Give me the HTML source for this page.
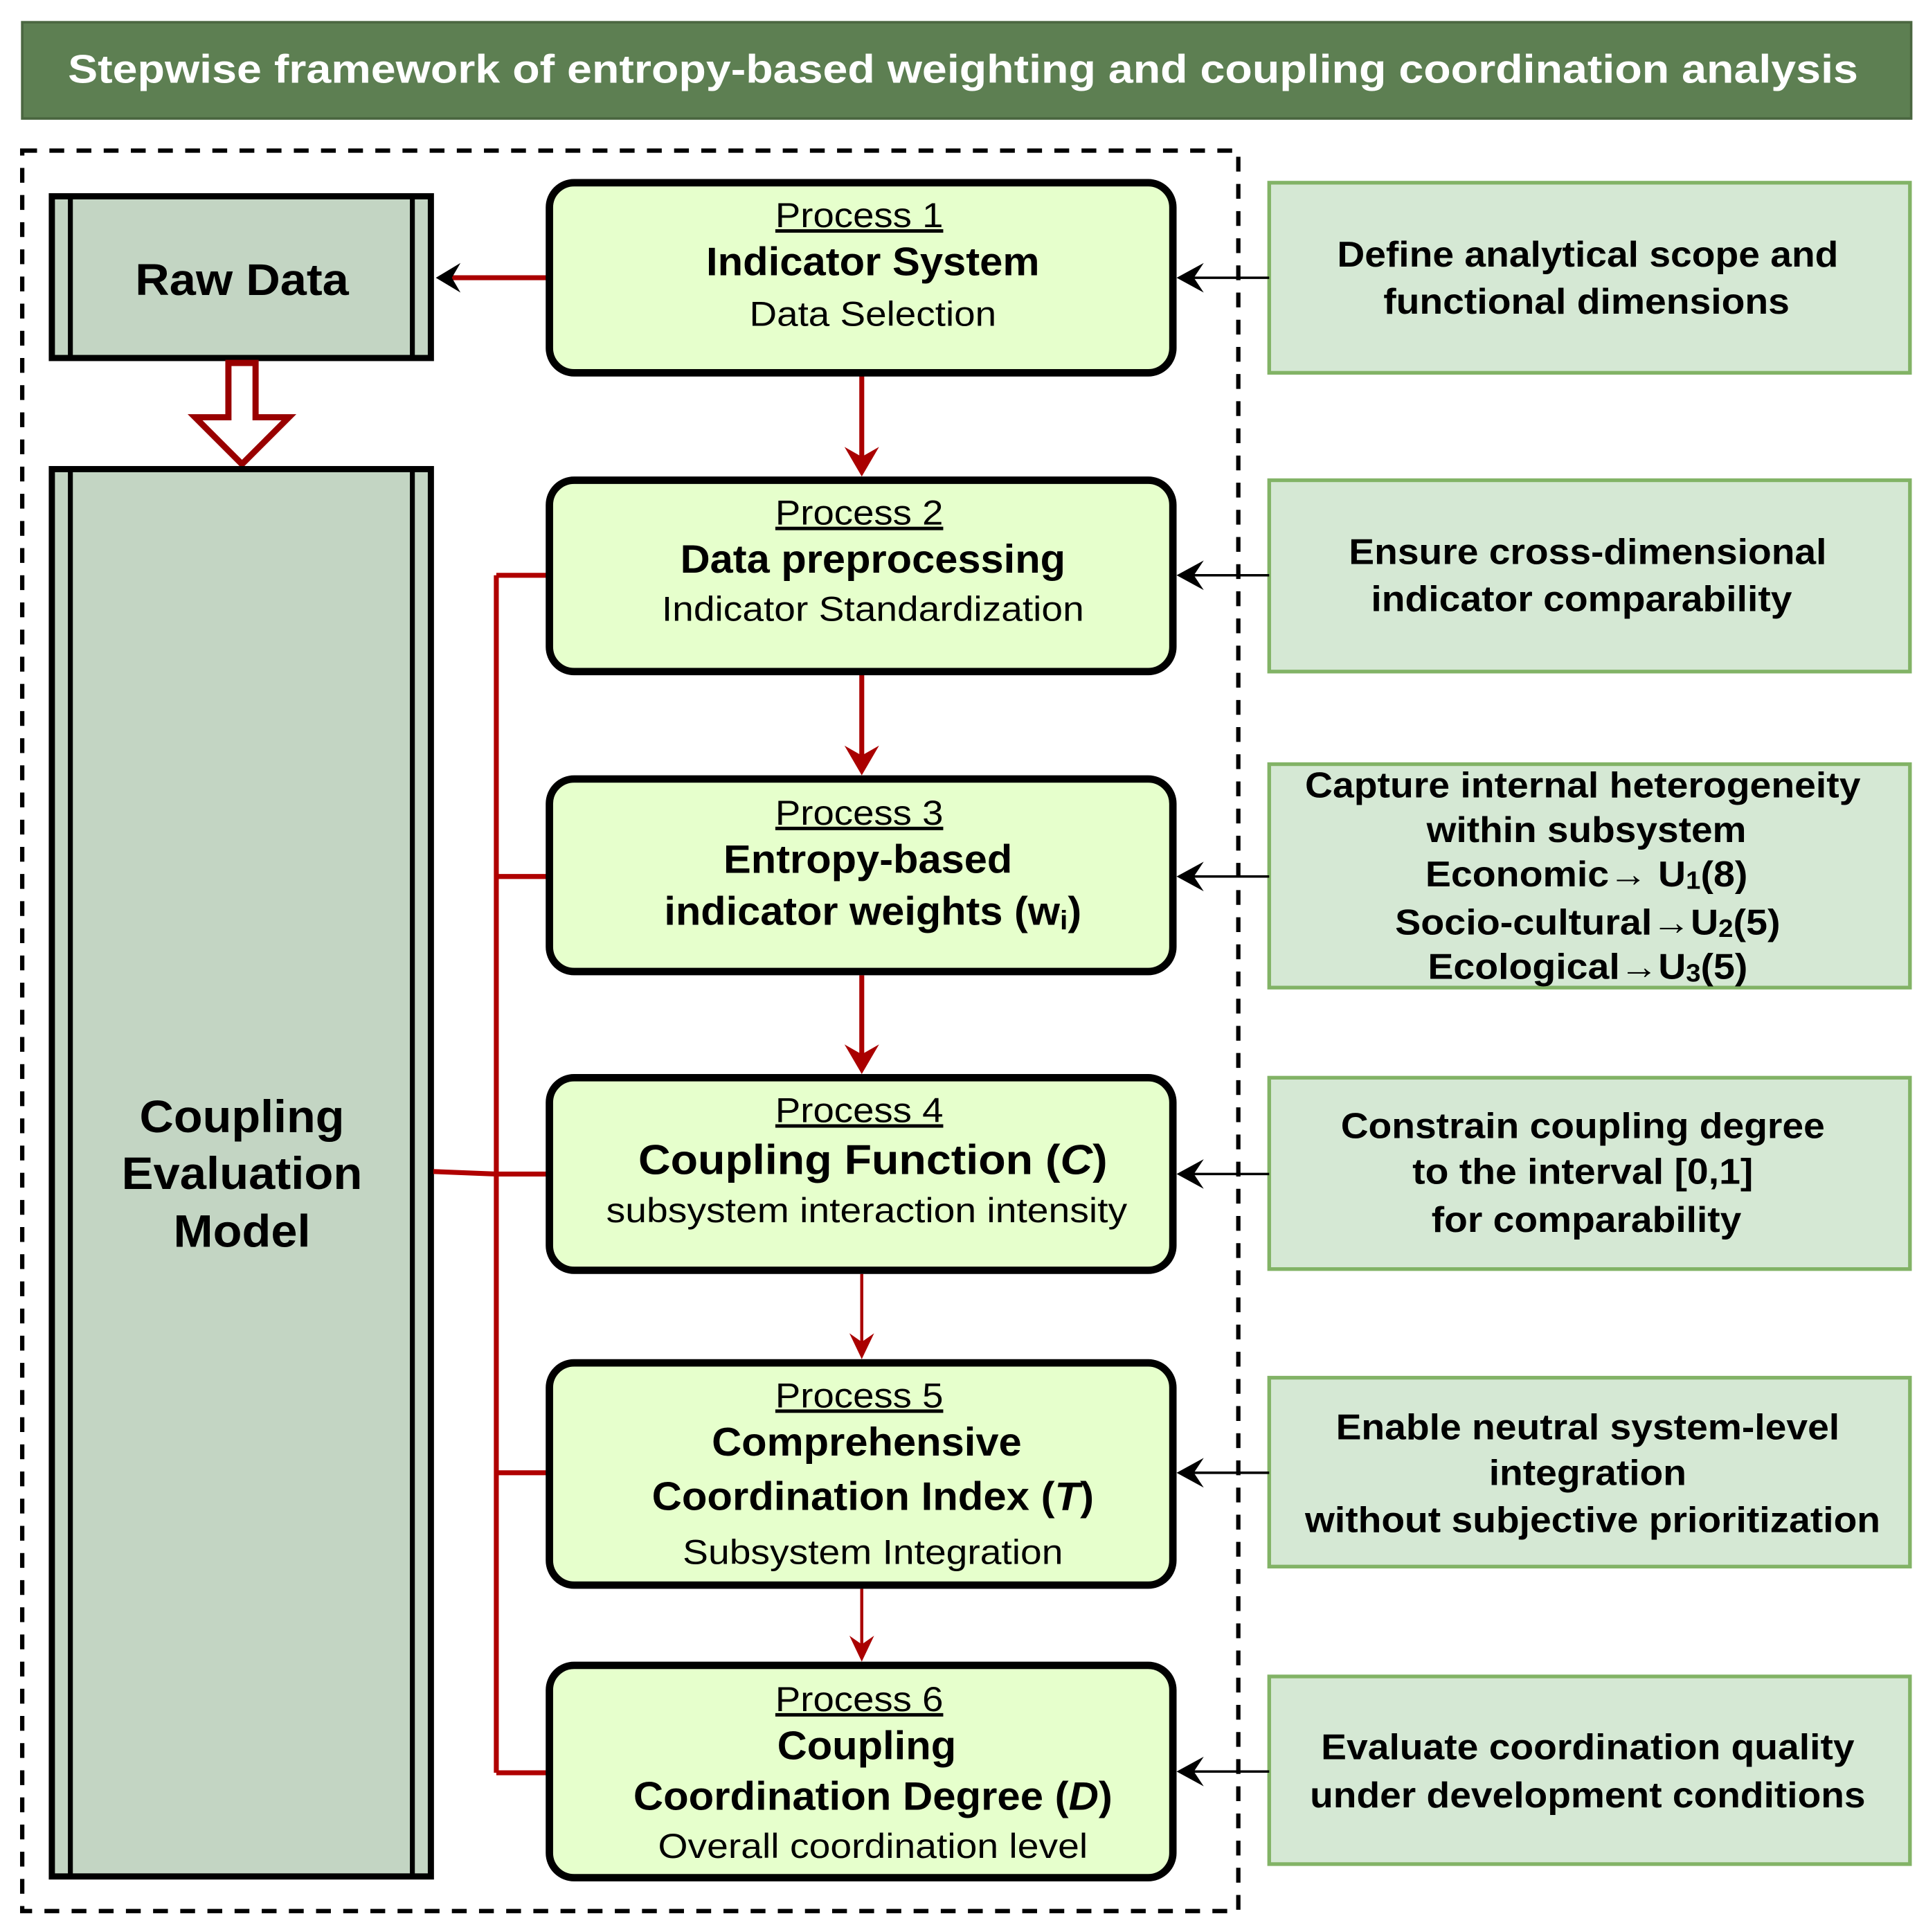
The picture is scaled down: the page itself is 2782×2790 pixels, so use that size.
<!DOCTYPE html>
<html><head><meta charset="utf-8"><style>
html,body{margin:0;padding:0;background:#fff;}
svg{display:block;}
text{font-family:"Liberation Sans",Arial,sans-serif;}
</style></head><body>
<svg width="2782" height="2790" viewBox="0 0 1560 1565" preserveAspectRatio="none" xmlns="http://www.w3.org/2000/svg">
<!-- title -->
<rect x="18" y="18" width="1530" height="78" fill="#5d7f52" stroke="#4a6640" stroke-width="2"/>
<text x="780" y="67" font-size="32" font-weight="bold" fill="#fff" text-anchor="middle" textLength="1450" lengthAdjust="spacingAndGlyphs">Stepwise framework of entropy-based weighting and coupling coordination analysis</text>
<!-- dashed container -->
<rect x="18" y="122" width="985" height="1426" fill="none" stroke="#000" stroke-width="3.5" stroke-dasharray="12,10"/>
<!-- Raw Data -->
<rect x="42" y="159" width="307" height="131" fill="#c3d5c3" stroke="#000" stroke-width="5"/>
<line x1="57" y1="159" x2="57" y2="290" stroke="#000" stroke-width="4"/>
<line x1="334" y1="159" x2="334" y2="290" stroke="#000" stroke-width="4"/>
<text x="196" y="239" font-size="36" font-weight="bold" text-anchor="middle" textLength="173" lengthAdjust="spacingAndGlyphs">Raw Data</text>
<!-- hollow arrow -->
<polygon points="185,294 207,294 207,338 234,338 196,376 158,338 185,338" fill="#fff" stroke="#990000" stroke-width="5"/>
<!-- Coupling Evaluation Model -->
<rect x="42" y="380" width="307" height="1140" fill="#c3d5c3" stroke="#000" stroke-width="5"/>
<line x1="57" y1="380" x2="57" y2="1520" stroke="#000" stroke-width="4"/>
<line x1="334" y1="380" x2="334" y2="1520" stroke="#000" stroke-width="4"/>
<g font-size="37" font-weight="bold" text-anchor="middle" lengthAdjust="spacingAndGlyphs">
<text x="196" y="917" textLength="166" lengthAdjust="spacingAndGlyphs">Coupling</text>
<text x="196" y="963" textLength="195" lengthAdjust="spacingAndGlyphs">Evaluation</text>
<text x="196" y="1010" textLength="111" lengthAdjust="spacingAndGlyphs">Model</text>
</g>
<!-- red arrow P1 -> Raw -->
<line x1="456" y1="225" x2="362" y2="225" stroke="#aa0000" stroke-width="4"/>
<path d="M353,225 L373,213 L366,225 L373,237 Z" fill="#000"/>
<!-- bracket -->
<g stroke="#b00000" stroke-width="4" fill="none">
<line x1="402" y1="466" x2="402" y2="1436"/>
<line x1="402" y1="466" x2="444" y2="466"/>
<line x1="402" y1="710" x2="444" y2="710"/>
<line x1="402" y1="951" x2="444" y2="951"/>
<line x1="402" y1="1193" x2="444" y2="1193"/>
<line x1="402" y1="1436" x2="444" y2="1436"/>
<line x1="351" y1="949" x2="402" y2="951"/>
</g>
<!-- vertical red arrows -->
<g stroke="#aa0000" fill="#aa0000">
<line x1="698" y1="304" x2="698" y2="372" stroke-width="4"/><path d="M684,362 L698,386 L712,362 L698,370Z" stroke="none"/>
<line x1="698" y1="546" x2="698" y2="614" stroke-width="4"/><path d="M684,604 L698,628 L712,604 L698,612Z" stroke="none"/>
<line x1="698" y1="790" x2="698" y2="856" stroke-width="4"/><path d="M684,846 L698,870 L712,846 L698,854Z" stroke="none"/>
<line x1="698" y1="1032" x2="698" y2="1090" stroke-width="2.5"/><path d="M688,1080 L698,1101 L708,1080 L698,1087Z" stroke="none"/>
<line x1="698" y1="1287" x2="698" y2="1336" stroke-width="2.5"/><path d="M688,1325 L698,1346 L708,1325 L698,1332Z" stroke="none"/>
</g>
<!-- process boxes -->
<g fill="#e6ffcc" stroke="#000" stroke-width="6">
<rect x="445" y="148" width="505" height="154" rx="20"/>
<rect x="445" y="389" width="505" height="155" rx="20"/>
<rect x="445" y="631" width="505" height="156" rx="20"/>
<rect x="445" y="873" width="505" height="156" rx="20"/>
<rect x="445" y="1104" width="505" height="180" rx="20"/>
<rect x="445" y="1349" width="505" height="172" rx="20"/>
</g>
<g text-anchor="middle">
<text x="696" y="184" font-size="28" text-decoration="underline" textLength="136" lengthAdjust="spacingAndGlyphs">Process 1</text>
<text x="707" y="223" font-size="32" font-weight="bold" textLength="270" lengthAdjust="spacingAndGlyphs">Indicator System</text>
<text x="707" y="264" font-size="28" textLength="200" lengthAdjust="spacingAndGlyphs">Data Selection</text>

<text x="696" y="425" font-size="28" text-decoration="underline" textLength="136" lengthAdjust="spacingAndGlyphs">Process 2</text>
<text x="707" y="464" font-size="32" font-weight="bold" textLength="312" lengthAdjust="spacingAndGlyphs">Data preprocessing</text>
<text x="707" y="503" font-size="28" textLength="342" lengthAdjust="spacingAndGlyphs">Indicator Standardization</text>

<text x="696" y="668" font-size="28" text-decoration="underline" textLength="136" lengthAdjust="spacingAndGlyphs">Process 3</text>
<text x="703" y="707" font-size="32" font-weight="bold" textLength="234" lengthAdjust="spacingAndGlyphs">Entropy-based</text>
<text x="707" y="749" font-size="32" font-weight="bold" textLength="338" lengthAdjust="spacingAndGlyphs">indicator weights (w<tspan font-size="22" dy="4">i</tspan><tspan dy="-4">)</tspan></text>

<text x="696" y="909" font-size="28" text-decoration="underline" textLength="136" lengthAdjust="spacingAndGlyphs">Process 4</text>
<text x="707" y="951" font-size="34" font-weight="bold" textLength="380" lengthAdjust="spacingAndGlyphs">Coupling Function (<tspan font-style="italic">C</tspan>)</text>
<text x="702" y="990" font-size="28" textLength="422" lengthAdjust="spacingAndGlyphs">subsystem interaction intensity</text>

<text x="696" y="1140" font-size="28" text-decoration="underline" textLength="136" lengthAdjust="spacingAndGlyphs">Process 5</text>
<text x="702" y="1179" font-size="32" font-weight="bold" textLength="251" lengthAdjust="spacingAndGlyphs">Comprehensive</text>
<text x="707" y="1223" font-size="32" font-weight="bold" textLength="358" lengthAdjust="spacingAndGlyphs">Coordination Index (<tspan font-style="italic">T</tspan>)</text>
<text x="707" y="1267" font-size="28" textLength="308" lengthAdjust="spacingAndGlyphs">Subsystem Integration</text>

<text x="696" y="1386" font-size="28" text-decoration="underline" textLength="136" lengthAdjust="spacingAndGlyphs">Process 6</text>
<text x="702" y="1425" font-size="32" font-weight="bold" textLength="145" lengthAdjust="spacingAndGlyphs">Coupling</text>
<text x="707" y="1466" font-size="32" font-weight="bold" textLength="388" lengthAdjust="spacingAndGlyphs">Coordination Degree (<tspan font-style="italic">D</tspan>)</text>
<text x="707" y="1505" font-size="28" textLength="348" lengthAdjust="spacingAndGlyphs">Overall coordination level</text>
</g>
<!-- right boxes -->
<g fill="#d5e8d4" stroke="#82b366" stroke-width="3">
<rect x="1028" y="148" width="519" height="154"/>
<rect x="1028" y="389" width="519" height="155"/>
<rect x="1028" y="619" width="519" height="181"/>
<rect x="1028" y="873" width="519" height="155"/>
<rect x="1028" y="1116" width="519" height="153"/>
<rect x="1028" y="1358" width="519" height="152"/>
</g>
<g text-anchor="middle" font-size="29" font-weight="bold">
<text x="1286" y="216" textLength="406" lengthAdjust="spacingAndGlyphs">Define analytical scope and</text>
<text x="1285" y="254" textLength="329" lengthAdjust="spacingAndGlyphs">functional dimensions</text>
<text x="1286" y="457" textLength="387" lengthAdjust="spacingAndGlyphs">Ensure cross-dimensional</text>
<text x="1281" y="495" textLength="341" lengthAdjust="spacingAndGlyphs">indicator comparability</text>
<text x="1282" y="646" textLength="450" lengthAdjust="spacingAndGlyphs">Capture internal heterogeneity</text>
<text x="1285" y="682" textLength="259" lengthAdjust="spacingAndGlyphs">within subsystem</text>
<text x="1285" y="718" textLength="261" lengthAdjust="spacingAndGlyphs">Economic→ U<tspan font-size="20" dy="2">1</tspan><tspan dy="-2">(8)</tspan></text>
<text x="1286" y="757" textLength="312" lengthAdjust="spacingAndGlyphs">Socio-cultural→U<tspan font-size="20" dy="2">2</tspan><tspan dy="-2">(5)</tspan></text>
<text x="1286" y="793" textLength="259" lengthAdjust="spacingAndGlyphs">Ecological→U<tspan font-size="20" dy="2">3</tspan><tspan dy="-2">(5)</tspan></text>
<text x="1282" y="922" textLength="392" lengthAdjust="spacingAndGlyphs">Constrain coupling degree</text>
<text x="1282" y="959" textLength="276" lengthAdjust="spacingAndGlyphs">to the interval [0,1]</text>
<text x="1285" y="998" textLength="251" lengthAdjust="spacingAndGlyphs">for comparability</text>
<text x="1286" y="1166" textLength="408" lengthAdjust="spacingAndGlyphs">Enable neutral system-level</text>
<text x="1286" y="1203" textLength="160" lengthAdjust="spacingAndGlyphs">integration</text>
<text x="1290" y="1241" textLength="466" lengthAdjust="spacingAndGlyphs">without subjective prioritization</text>
<text x="1286" y="1425" textLength="432" lengthAdjust="spacingAndGlyphs">Evaluate coordination quality</text>
<text x="1286" y="1464" textLength="450" lengthAdjust="spacingAndGlyphs">under development conditions</text>
</g>
<!-- black arrows right -> process -->
<g stroke="#000" stroke-width="2">
<line x1="1028" y1="225" x2="962" y2="225"/>
<line x1="1028" y1="466" x2="962" y2="466"/>
<line x1="1028" y1="710" x2="962" y2="710"/>
<line x1="1028" y1="951" x2="962" y2="951"/>
<line x1="1028" y1="1193" x2="962" y2="1193"/>
<line x1="1028" y1="1435" x2="962" y2="1435"/>
</g>
<g fill="#000">
<path d="M953,225 L975,213 L967,225 L975,237Z"/>
<path d="M953,466 L975,454 L967,466 L975,478Z"/>
<path d="M953,710 L975,698 L967,710 L975,722Z"/>
<path d="M953,951 L975,939 L967,951 L975,963Z"/>
<path d="M953,1193 L975,1181 L967,1193 L975,1205Z"/>
<path d="M953,1435 L975,1423 L967,1435 L975,1447Z"/>
</g>
</svg>
</body></html>
